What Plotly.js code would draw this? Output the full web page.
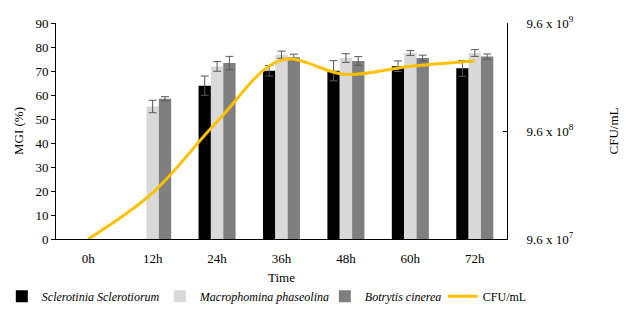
<!DOCTYPE html>
<html>
<head>
<meta charset="utf-8">
<script src="https://cdn.plot.ly/plotly-3.0.1.min.js"></script>
<style>html,body{margin:0;padding:0;background:#fff;}#chart{width:634px;height:322px;}</style>
</head>
<body>
<div id="chart"></div>
<script>
const categories = ["0h", "12h", "24h", "36h", "48h", "60h", "72h"];
const sclerotinia = [null, null, 63.9, 70.1, 70.1, 72.0, 71.1];
const sclerotiniaErr = [0, 0, 4.0, 2.2, 4.2, 2.2, 3.3];
const macrophomina = [null, 55.2, 71.9, 76.8, 75.4, 77.5, 77.5];
const macrophominaErr = [0, 2.6, 2.0, 1.5, 1.8, 1.0, 1.4];
const botrytis = [null, 58.4, 73.3, 75.7, 74.2, 75.4, 76.0];
const botrytisErr = [0, 0.9, 2.8, 1.3, 1.8, 1.2, 1.1];
const cfu = [9.6e7, 2.57e8, 1.17e9, 4.35e9, 3.2e9, 3.82e9, 4.28e9];
const cfuTicks = [9.6e7, 9.6e8, 9.6e9];
const cfuTickText = ["9.6 x 10<sup>7</sup>", "9.6 x 10<sup>8</sup>", "9.6 x 10<sup>9</sup>"];

const font = '"Liberation Serif", "Times New Roman", serif';
const errStyle = {type: 'data', visible: true, color: '#595959', thickness: 1, width: 4};

function barTrace(name, vals, errs, color, lw) {
  return {
    type: 'bar', name: '<i>' + name + '</i>', x: categories, y: vals,
    marker: {color: color, line: {width: 0}},
    error_y: Object.assign({array: errs}, errStyle),
    legendwidth: lw,
    yaxis: 'y'
  };
}

const data = [
  barTrace('Sclerotinia Sclerotiorum', sclerotinia, sclerotiniaErr, '#000000', 113),
  barTrace('Macrophomina phaseolina', macrophomina, macrophominaErr, '#D9D9D9', 120),
  barTrace('Botrytis cinerea', botrytis, botrytisErr, '#7F7F7F', 73),
  {
    type: 'scatter', mode: 'lines', name: 'CFU/mL', x: categories, y: cfu,
    line: {color: '#FFC000', width: 3, shape: 'spline', smoothing: 1},
    yaxis: 'y2'
  }
];

const layout = {
  width: 634, height: 322,
  margin: {l: 56, r: 127, t: 23, b: 83, autoexpand: false},
  paper_bgcolor: '#fff', plot_bgcolor: '#fff',
  font: {family: font, size: 13, color: '#000'},
  barmode: 'group', bargap: 0.425, bargroupgap: 0,
  showlegend: true,
  legend: {orientation: 'h', x: 1.055, xanchor: 'right', y: -0.265, yanchor: 'middle',
           font: {family: font, size: 12, color: '#000'}, traceorder: 'normal', itemwidth: 30,
           tracegroupgap: 0},
  xaxis: {
    type: 'category', range: [-0.5, 6.5], showgrid: false, zeroline: false,
    showline: true, linecolor: '#000', linewidth: 1, ticks: '', ticklabelstandoff: 7,
    tickfont: {family: font, size: 13}, title: {text: 'Time', font: {family: font, size: 13}, standoff: 8}
  },
  yaxis: {
    range: [0, 90], dtick: 10, showgrid: false, zeroline: false,
    showline: true, linecolor: '#000', linewidth: 1, ticks: 'outside', ticklen: 4, tickcolor: '#000',
    tickfont: {family: font, size: 13}, title: {text: 'MGI (%)', font: {family: font, size: 13}, standoff: 8}
  },
  yaxis2: {
    type: 'log', overlaying: 'y', side: 'right', anchor: 'x',
    range: [Math.log10(9.6e7), Math.log10(9.6e9)],
    tickmode: 'array', tickvals: cfuTicks, ticktext: cfuTickText,
    showgrid: false, zeroline: false, showline: true, linecolor: '#000', linewidth: 1,
    ticks: 'inside', ticklen: 4, tickcolor: '#000', ticklabelstandoff: 16,
    tickfont: {family: font, size: 13},
    title: {text: 'CFU/mL', font: {family: font, size: 13}, standoff: 36}
  }
};

Plotly.newPlot('chart', data, layout, {displayModeBar: false, staticPlot: true});
</script>
</body>
</html>
